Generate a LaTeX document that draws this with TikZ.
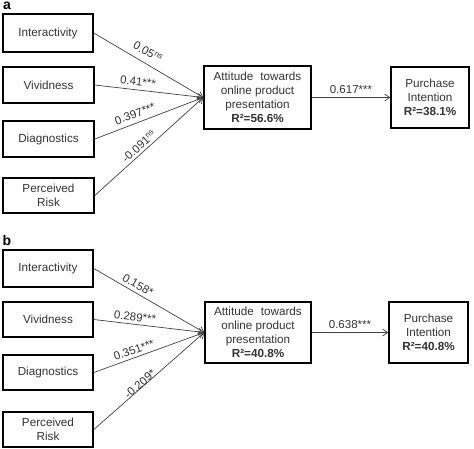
\documentclass[tikz,border=0pt]{standalone}
\usepackage{fontspec}
\setmainfont{Liberation Sans}
\usetikzlibrary{arrows.meta}
\begin{document}
\begin{tikzpicture}[x=1pt,y=-1pt,
  box/.style={draw=black, line width=1.6pt, fill=white, align=center, inner sep=1pt,
    font=\fontsize{11.7}{14}\selectfont, text=black!80},
  conn/.style={draw=black!75, line width=0.7pt, -{Straight Barb[length=5pt,width=7pt]}},
  lab/.style={font=\fontsize{11.5}{13}\selectfont, text=black!80, inner sep=0pt},
  panel/.style={font=\bfseries\fontsize{14}{16}\selectfont, inner sep=0pt}]
\useasboundingbox (0,0) rectangle (474,448);
% panel a
\node[panel] (pa) at (7,6) {a};
\node[box, minimum width=90pt, minimum height=38pt] (ia) at (48,33) {Interactivity};
\node[box, minimum width=91pt, minimum height=36pt] (va) at (48.5,85) {Vividness};
\node[box, minimum width=91pt, minimum height=36pt] (da) at (48.5,139) {Diagnostics};
\node[box, minimum width=91pt, minimum height=35pt] (ra) at (48.5,195.5) {Perceived\\Risk};
\node[box, minimum width=107pt, minimum height=63pt] (aa) at (257.5,97.5) {Attitude\hspace{0.6em}towards\\online product\\presentation\\\textbf{R²=56.6\%}};
\node[box, minimum width=78pt, minimum height=61pt] (ua) at (430,97.5) {Purchase\\Intention\\\textbf{R²=38.1\%}};
\draw[conn] (ia.east) -- (aa.west);
\draw[conn] (va.east) -- (aa.west);
\draw[conn] (da.east) -- (aa.west);
\draw[conn] (ra.east) -- (aa.west);
\draw[conn] (aa.east) -- node[lab, above=4pt] (la5) {0.617***} (ua.west);
\node[lab, rotate=-30] (la1) at (148,52) {0.05\textsuperscript{ns}};
\node[lab, rotate=-6.5] (la2) at (138,82) {0.41***};
\node[lab, rotate=20.7] (la3) at (135,114) {0.397***};
\node[lab, rotate=41.7] (la4) at (139,146) {-0.091\textsuperscript{ns}};
% panel b
\node[panel] (pb) at (7,240) {b};
\node[box, minimum width=90pt, minimum height=37pt] (ib) at (48,268.5) {Interactivity};
\node[box, minimum width=90pt, minimum height=35pt] (vb) at (48,319.5) {Vividness};
\node[box, minimum width=90pt, minimum height=35pt] (db) at (48,372.5) {Diagnostics};
\node[box, minimum width=90pt, minimum height=35pt] (rb) at (48,429.5) {Perceived\\Risk};
\node[box, minimum width=106pt, minimum height=61pt] (ab) at (258,332.5) {Attitude\hspace{0.6em}towards\\online product\\presentation\\\textbf{R²=40.8\%}};
\node[box, minimum width=79pt, minimum height=61pt] (ub) at (428.5,332.5) {Purchase\\Intention\\\textbf{R²=40.8\%}};
\draw[conn] (ib.east) -- (ab.west);
\draw[conn] (vb.east) -- (ab.west);
\draw[conn] (db.east) -- (ab.west);
\draw[conn] (rb.east) -- (ab.west);
\draw[conn] (ab.east) -- node[lab, above=4pt] (lb5) {0.638***} (ub.west);
\node[lab, rotate=-29.7] (lb1) at (138,285) {0.158*};
\node[lab, rotate=-6.6] (lb2) at (135,317) {0.289***};
\node[lab, rotate=19.7] (lb3) at (134,350) {0.351***};
\node[lab, rotate=40.9] (lb4) at (140,384) {-0.209*};
\end{tikzpicture}
\end{document}
